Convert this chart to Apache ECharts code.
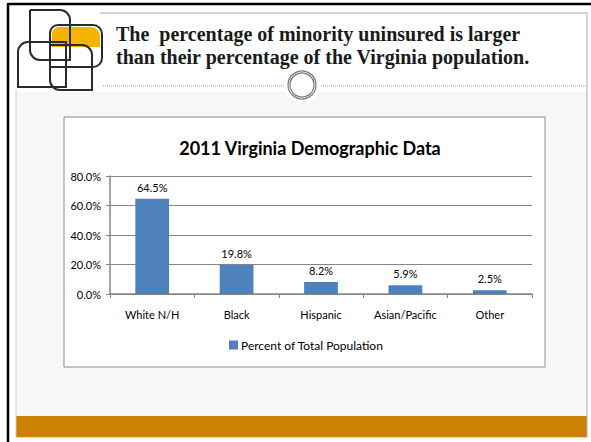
<!DOCTYPE html>
<html>
<head>
<meta charset="utf-8">
<script src="https://cdn.jsdelivr.net/npm/echarts@6/dist/echarts.min.js"></script>
<style>
  html, body { margin: 0; padding: 0; background: #fff; }
  #main { width: 591px; height: 442px; }
</style>
</head>
<body>
<div id="main"></div>
<script>
// chart data
const categories = ["White N/H", "Black", "Hispanic", "Asian/Pacific", "Other"];
const percentValues = [64.5, 19.8, 8.2, 5.9, 2.5];
const seriesName = "Percent of Total Population";
const chartTitle = "2011 Virginia Demographic Data";
const slideLines = [
  "The  percentage of minority uninsured is larger",
  "than their percentage of the Virginia population."
];

const sans = "Lato, 'Liberation Sans', sans-serif";
const chart = echarts.init(document.getElementById("main"), null, { renderer: "svg" });

// slide decoration (frame, logo, divider, footer band)
const logoStroke = { stroke: "#2b2b2b", lineWidth: 2, fill: "none" };
const decor = [
  { type: "rect", shape: { x: 0, y: 0, width: 591, height: 442 }, style: { fill: "#fff" }, z: -20 },
  { type: "rect", shape: { x: 16, y: 92, width: 571, height: 324 }, style: { fill: "#f7f7f7" }, z: -19 },
  { type: "rect", shape: { x: 16, y: 416, width: 571, height: 21 }, style: { fill: "#cb8204" }, z: -19 },
  // thin grey frame
  { type: "line", shape: { x1: 100, y1: 13, x2: 587, y2: 13 }, style: { stroke: "#aaa", lineWidth: 1 }, z: -18 },
  { type: "line", shape: { x1: 587, y1: 13, x2: 587, y2: 437 }, style: { stroke: "#aaa", lineWidth: 1 }, z: -18 },
  { type: "line", shape: { x1: 16, y1: 90, x2: 16, y2: 437 }, style: { stroke: "#ccc", lineWidth: 1 }, z: -18 },
  { type: "line", shape: { x1: 16, y1: 437.5, x2: 587, y2: 437.5 }, style: { stroke: "#ddd", lineWidth: 1 }, z: -18 },
  // black outer edge
  { type: "line", shape: { x1: 8, y1: 4, x2: 591, y2: 4 }, style: { stroke: "#000", lineWidth: 2.5 }, z: -17 },
  { type: "line", shape: { x1: 8, y1: 3, x2: 8, y2: 442 }, style: { stroke: "#000", lineWidth: 2.5 }, z: -17 },
  // dotted divider with ring
  { type: "line", shape: { x1: 103, y1: 86, x2: 587, y2: 86 }, style: { stroke: "#999", lineWidth: 1, lineDash: [1, 1] }, z: -17 },
  { type: "circle", shape: { cx: 302, cy: 85, r: 18 }, style: { fill: "#fff" }, z: -16 },
  { type: "circle", shape: { cx: 302, cy: 85, r: 14 }, style: { fill: "#fff", stroke: "#777", lineWidth: 1.2 }, z: -15 },
  { type: "circle", shape: { cx: 302, cy: 85, r: 12 }, style: { fill: "none", stroke: "#777", lineWidth: 1.2 }, z: -15 },
  // logo
  { type: "rect", shape: { x: 52, y: 27, width: 48, height: 20, r: [7, 9, 0, 0] }, style: { fill: "#f4b400" }, z: -14 },
  { type: "rect", shape: { x: 30, y: 10, width: 40, height: 50, r: [0, 10, 0, 10] }, style: logoStroke, z: -13 },
  { type: "rect", shape: { x: 50, y: 25, width: 52, height: 42, r: [8, 9, 9, 0] }, style: logoStroke, z: -13 },
  { type: "rect", shape: { x: 18, y: 42, width: 48, height: 45, r: [10, 0, 0, 0] }, style: logoStroke, z: -13 },
  { type: "rect", shape: { x: 50, y: 45, width: 42, height: 45, r: [0, 10, 0, 10] }, style: logoStroke, z: -13 },
  // slide heading
  {
    type: "text", left: 116, top: 22, z: -12,
    style: { text: slideLines.join("\n"), fill: "#1a1a1a", font: "bold 20px 'Liberation Serif', serif", lineHeight: 23 }
  },
  // chart box
  { type: "rect", shape: { x: 64, y: 117, width: 481, height: 250 }, style: { fill: "#fff", stroke: "#8c8c8c", lineWidth: 1 }, z: -11 }
];

const option = {
  animation: false,
  color: ["#4f81bd"],
  graphic: decor,
  title: {
    text: chartTitle,
    left: 305,
    top: 134,
    textAlign: "center",
    textStyle: { fontFamily: sans, fontSize: 18, fontWeight: "bold", color: "#000" }
  },
  legend: {
    data: [seriesName],
    left: 229,
    top: 339,
    padding: 0,
    icon: "rect",
    itemWidth: 9,
    itemHeight: 9,
    itemGap: 4,
    textStyle: { fontFamily: sans, fontSize: 12, color: "#000", padding: [0, 0, 0, -2] }
  },
  grid: { left: 110, right: 59, top: 176, bottom: 148 },
  xAxis: {
    type: "category",
    data: categories,
    axisLine: { lineStyle: { color: "#868686", width: 1.5 } },
    axisTick: { show: true, length: 4, lineStyle: { color: "#868686" } },
    axisLabel: { margin: 15, fontFamily: sans, fontSize: 11, color: "#000" }
  },
  yAxis: {
    type: "value",
    min: 0,
    max: 80,
    interval: 20,
    axisLine: { show: true, lineStyle: { color: "#868686", width: 1.5 } },
    axisTick: { show: true, length: 4, lineStyle: { color: "#868686" } },
    splitLine: { lineStyle: { color: "#868686", width: 1.2 } },
    axisLabel: {
      margin: 9,
      fontFamily: sans,
      fontSize: 11,
      color: "#000",
      formatter: v => v.toFixed(1) + "%"
    }
  },
  series: [
    {
      name: seriesName,
      type: "bar",
      data: percentValues,
      barWidth: "40%",
      label: {
        show: true,
        position: "top",
        distance: 6,
        fontFamily: sans,
        fontSize: 11,
        color: "#000",
        formatter: p => p.value.toFixed(1) + "%"
      }
    }
  ]
};

chart.setOption(option);
</script>
</body>
</html>
